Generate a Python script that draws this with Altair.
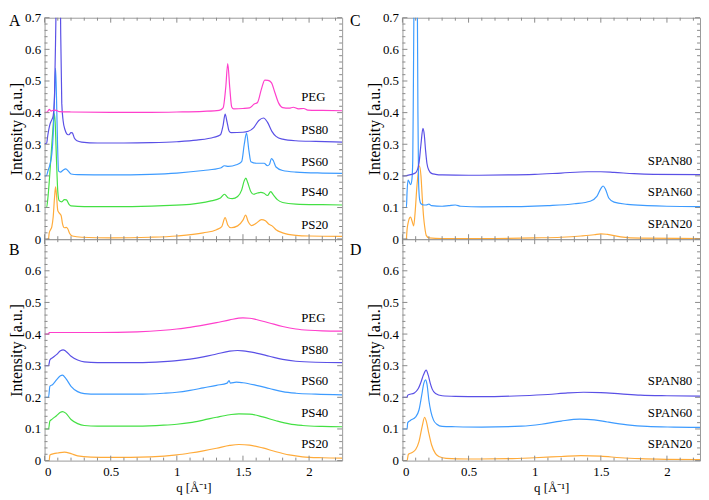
import altair as alt
import pandas as pd

# ---------------- data (q [1/Å], intensity [a.u.]) ----------------
# Panel A
A_PEG = [(0.0,0.401),(0.02,0.402),(0.035,0.41),(0.05,0.405),(0.07,0.408),(0.09,0.407),(0.11,0.403),(0.2,0.402),
         (0.5,0.401),(0.8,0.401),(1.0,0.402),(1.2,0.404),(1.32,0.407),(1.35,0.415),(1.37,0.48),(1.385,0.555),
         (1.40,0.48),(1.415,0.418),(1.43,0.412),(1.5,0.413),(1.55,0.415),(1.585,0.427),(1.61,0.432),(1.64,0.475),
         (1.665,0.503),(1.69,0.502),(1.715,0.495),(1.74,0.465),(1.77,0.43),(1.8,0.416),(1.85,0.414),(1.88,0.417),
         (1.92,0.412),(1.96,0.413),(1.99,0.408),(2.1,0.407),(2.25,0.406)]
A_PS80 = [(0.0,0.302),(0.015,0.303),(0.025,0.33),(0.04,0.362),(0.055,0.378),(0.065,0.39),(0.075,0.45),(0.085,0.68),
          (0.095,0.95),(0.105,1.05),(0.115,0.95),(0.122,0.65),(0.13,0.43),(0.14,0.375),(0.155,0.345),(0.17,0.332),
          (0.185,0.33),(0.2,0.337),(0.21,0.336),(0.225,0.32),(0.245,0.311),(0.28,0.307),(0.4,0.304),(0.6,0.304),
          (0.8,0.305),(1.0,0.308),(1.15,0.313),(1.28,0.322),(1.33,0.33),(1.35,0.36),(1.365,0.395),(1.38,0.37),
          (1.395,0.342),(1.41,0.337),(1.5,0.338),(1.54,0.341),(1.58,0.352),(1.62,0.375),(1.655,0.383),(1.685,0.37),
          (1.72,0.34),(1.75,0.325),(1.8,0.316),(1.9,0.311),(2.05,0.309),(2.25,0.307)]
A_PS60 = [(0.0,0.2),(0.015,0.201),(0.025,0.215),(0.04,0.235),(0.055,0.27),(0.065,0.33),(0.075,0.45),(0.083,0.54),
          (0.09,0.45),(0.098,0.3),(0.106,0.215),(0.12,0.212),(0.14,0.218),(0.16,0.222),(0.18,0.215),(0.2,0.206),
          (0.25,0.204),(0.5,0.203),(0.8,0.205),(1.0,0.209),(1.2,0.217),(1.33,0.225),(1.36,0.232),(1.39,0.23),
          (1.45,0.235),(1.49,0.245),(1.51,0.3),(1.527,0.335),(1.545,0.28),(1.56,0.245),(1.6,0.24),(1.66,0.24),
          (1.685,0.232),(1.7,0.236),(1.715,0.255),(1.73,0.248),(1.75,0.228),(1.8,0.217),(1.9,0.212),(2.1,0.209),
          (2.25,0.208)]
A_PS40 = [(0.0,0.1),(0.015,0.101),(0.025,0.13),(0.035,0.18),(0.045,0.24),(0.055,0.3),(0.065,0.36),(0.073,0.397),
          (0.08,0.37),(0.09,0.25),(0.1,0.15),(0.11,0.122),(0.13,0.118),(0.15,0.125),(0.165,0.124),(0.185,0.11),
          (0.2,0.105),(0.3,0.103),(0.6,0.103),(0.9,0.106),(1.1,0.11),(1.25,0.12),(1.33,0.13),(1.36,0.142),
          (1.39,0.13),(1.42,0.128),(1.46,0.135),(1.49,0.155),(1.51,0.185),(1.522,0.193),(1.535,0.18),(1.56,0.15),
          (1.58,0.142),(1.61,0.146),(1.635,0.148),(1.66,0.145),(1.685,0.138),(1.71,0.15),(1.73,0.14),(1.76,0.125),
          (1.8,0.116),(1.9,0.111),(2.1,0.109),(2.25,0.108)]
A_PS20 = [(0.02,0.0),(0.03,0.001),(0.035,0.02),(0.045,0.03),(0.055,0.04),(0.065,0.07),(0.075,0.13),(0.083,0.165),
          (0.09,0.14),(0.1,0.09),(0.11,0.083),(0.125,0.075),(0.135,0.05),(0.15,0.036),(0.165,0.037),(0.175,0.033),
          (0.19,0.018),(0.21,0.01),(0.28,0.006),(0.5,0.004),(0.8,0.006),(1.0,0.01),(1.2,0.02),(1.3,0.03),
          (1.34,0.04),(1.365,0.068),(1.385,0.045),(1.41,0.036),(1.46,0.042),(1.5,0.06),(1.52,0.076),(1.54,0.055),
          (1.565,0.043),(1.6,0.05),(1.64,0.062),(1.67,0.058),(1.7,0.046),(1.72,0.042),(1.75,0.03),(1.8,0.02),
          (1.9,0.012),(2.0,0.01),(2.25,0.009)]

# Panel B
B_PEG = [(0.0,0.4),(0.03,0.4),(0.035,0.405),(0.1,0.405),(0.4,0.405),(0.7,0.407),(0.9,0.412),(1.0,0.416),
         (1.1,0.421),(1.2,0.428),(1.3,0.436),(1.4,0.445),(1.5,0.451),(1.55,0.45),(1.6,0.446),(1.7,0.435),
         (1.8,0.424),(1.9,0.416),(2.0,0.412),(2.1,0.41),(2.25,0.409)]
B_PS80 = [(0.0,0.3),(0.03,0.3),(0.04,0.318),(0.06,0.325),(0.09,0.335),(0.12,0.347),(0.14,0.35),(0.16,0.346),
          (0.2,0.33),(0.25,0.318),(0.3,0.312),(0.4,0.31),(0.7,0.31),(0.9,0.313),(1.0,0.316),(1.1,0.321),
          (1.2,0.328),(1.3,0.337),(1.4,0.346),(1.46,0.348),(1.5,0.347),(1.6,0.34),(1.7,0.33),(1.8,0.32),
          (1.9,0.314),(2.05,0.311),(2.25,0.31)]
B_PS60 = [(0.0,0.2),(0.03,0.2),(0.04,0.235),(0.06,0.24),(0.09,0.255),(0.12,0.268),(0.135,0.27),(0.16,0.26),
          (0.2,0.235),(0.25,0.218),(0.3,0.212),(0.4,0.21),(0.7,0.21),(0.9,0.213),(1.0,0.216),(1.1,0.222),
          (1.2,0.23),(1.3,0.238),(1.38,0.245),(1.395,0.253),(1.405,0.245),(1.45,0.248),(1.5,0.246),(1.6,0.238),
          (1.7,0.228),(1.8,0.218),(1.9,0.213),(2.05,0.21),(2.25,0.208)]
B_PS40 = [(0.0,0.1),(0.03,0.1),(0.04,0.125),(0.06,0.132),(0.09,0.142),(0.12,0.153),(0.135,0.155),(0.16,0.15),
          (0.2,0.13),(0.25,0.117),(0.3,0.111),(0.4,0.109),(0.7,0.109),(0.9,0.112),(1.0,0.115),(1.1,0.12),
          (1.2,0.128),(1.3,0.137),(1.4,0.145),(1.47,0.148),(1.55,0.147),(1.65,0.138),(1.75,0.126),(1.85,0.116),
          (1.95,0.111),(2.1,0.108),(2.25,0.107)]
B_PS20 = [(0.0,0.0),(0.035,0.0),(0.04,0.018),(0.07,0.022),(0.1,0.024),(0.15,0.027),(0.2,0.022),(0.25,0.015),
          (0.35,0.011),(0.5,0.01),(0.8,0.012),(1.0,0.018),(1.1,0.024),(1.2,0.031),(1.3,0.039),(1.4,0.048),
          (1.47,0.051),(1.55,0.049),(1.65,0.04),(1.75,0.028),(1.85,0.018),(1.95,0.012),(2.1,0.009),(2.25,0.008)]

# Panel C
C_SPAN80 = [(0.0,0.2),(0.03,0.201),(0.062,0.204),(0.1,0.21),(0.125,0.24),(0.14,0.3),(0.155,0.35),(0.165,0.33),
            (0.175,0.28),(0.185,0.24),(0.2,0.218),(0.22,0.208),(0.25,0.205),(0.3,0.203),(0.5,0.202),(0.8,0.203),
            (1.0,0.205),(1.2,0.209),(1.4,0.213),(1.5,0.213),(1.6,0.211),(1.75,0.207),(1.9,0.205),(2.25,0.204)]
C_SPAN60 = [(0.0,0.1),(0.03,0.1),(0.035,0.15),(0.042,0.187),(0.05,0.182),(0.062,0.172),(0.072,0.19),(0.078,0.25),
            (0.083,0.5),(0.088,0.8),(0.1,1.1),(0.112,0.8),(0.117,0.4),(0.122,0.18),(0.13,0.125),(0.14,0.112),
            (0.16,0.108),(0.18,0.108),(0.2,0.111),(0.22,0.106),(0.3,0.104),(0.35,0.106),(0.4,0.108),(0.44,0.104),
            (0.6,0.102),(0.9,0.103),(1.1,0.106),(1.3,0.112),(1.42,0.12),(1.47,0.135),(1.5,0.16),(1.517,0.168),
            (1.535,0.158),(1.56,0.13),(1.6,0.117),(1.7,0.11),(1.85,0.106),(2.0,0.104),(2.25,0.103)]
C_SPAN20 = [(0.03,0.0),(0.035,0.03),(0.042,0.05),(0.055,0.068),(0.062,0.07),(0.072,0.058),(0.085,0.042),
            (0.095,0.08),(0.11,0.17),(0.128,0.232),(0.14,0.2),(0.15,0.13),(0.16,0.07),(0.168,0.04),(0.18,0.012),
            (0.2,0.004),(0.3,0.002),(0.6,0.002),(1.0,0.004),(1.2,0.006),(1.35,0.01),(1.45,0.014),(1.5,0.017),
            (1.55,0.015),(1.65,0.007),(1.8,0.003),(2.25,0.002)]

# Panel D
D_SPAN80 = [(0.0,0.2),(0.035,0.2),(0.04,0.207),(0.09,0.214),(0.12,0.228),(0.14,0.248),(0.16,0.272),(0.179,0.286),
            (0.195,0.27),(0.21,0.245),(0.225,0.226),(0.25,0.212),(0.3,0.205),(0.4,0.203),(0.6,0.202),(0.9,0.205),
            (1.1,0.209),(1.25,0.214),(1.37,0.216),(1.5,0.215),(1.65,0.211),(1.8,0.207),(2.0,0.205),(2.25,0.204)]
D_SPAN60 = [(0.0,0.1),(0.035,0.1),(0.04,0.12),(0.06,0.127),(0.1,0.138),(0.125,0.16),(0.145,0.205),(0.162,0.245),
            (0.174,0.255),(0.186,0.24),(0.2,0.19),(0.215,0.155),(0.235,0.128),(0.26,0.115),(0.3,0.108),(0.4,0.107),
            (0.6,0.106),(0.9,0.109),(1.05,0.115),(1.2,0.125),(1.34,0.131),(1.45,0.129),(1.55,0.122),(1.7,0.113),
            (1.85,0.108),(2.05,0.106),(2.25,0.105)]
D_SPAN20 = [(0.0,0.0),(0.035,0.0),(0.045,0.02),(0.07,0.025),(0.1,0.035),(0.125,0.06),(0.15,0.11),(0.168,0.137),
            (0.18,0.125),(0.2,0.085),(0.22,0.05),(0.25,0.022),(0.28,0.012),(0.33,0.007),(0.5,0.005),(0.8,0.006),
            (1.0,0.009),(1.2,0.013),(1.35,0.016),(1.5,0.014),(1.65,0.009),(1.8,0.006),(2.0,0.004),(2.25,0.003)]

# curve labels: (text, q, intensity)
A_LABELS = [("PEG", 1.94, 0.448), ("PS80", 1.94, 0.345), ("PS60", 1.94, 0.245), ("PS40", 1.94, 0.149), ("PS20", 1.94, 0.046)]
B_LABELS = [("PEG", 1.94, 0.45), ("PS80", 1.94, 0.349), ("PS60", 1.94, 0.25), ("PS40", 1.94, 0.149), ("PS20", 1.94, 0.051)]
C_LABELS = [("SPAN80", 1.855, 0.247), ("SPAN60", 1.855, 0.148), ("SPAN20", 1.855, 0.047)]
D_LABELS = [("SPAN80", 1.855, 0.25), ("SPAN60", 1.855, 0.149), ("SPAN20", 1.855, 0.051)]

SERIES = ["PEG", "PS80", "PS60", "PS40", "PS20", "SPAN80", "SPAN60", "SPAN20"]
COLORS = ["#ff3fcc", "#5a50e6", "#3d9bff", "#44e044", "#ffab3a", "#5a50e6", "#3d9bff", "#ffab3a"]

X_MAJOR = [0, 0.5, 1, 1.5, 2]
X_MINOR = [0.1, 0.2, 0.3, 0.4, 0.6, 0.7, 0.8, 0.9, 1.1, 1.2, 1.3, 1.4, 1.6, 1.7, 1.8, 1.9, 2.1, 2.2]
Y_MAJOR = [0, 0.1, 0.2, 0.3, 0.4, 0.5, 0.6, 0.7]
Y_MINOR = [round(0.02 * i, 2) for i in range(36) if i % 5 != 0]

W, H = 301, 224
FONT = "Liberation Serif"
GREY = "#8a8a8a"

xscale = alt.Scale(domain=[0, 2.25], nice=False, zero=False)
yscale = alt.Scale(domain=[0, 0.7], nice=False)
cscale = alt.Scale(domain=SERIES, range=COLORS)


def make_axes(y_vals, show_x):
    yaxis = alt.Axis(values=y_vals, format="~g", ticks=False, domain=False, grid=False,
                     labelFont=FONT, labelFontSize=13, labelColor="black", labelPadding=4,
                     title="Intensity [a.u.]", titleFont=FONT, titleFontSize=16,
                     titleFontWeight="normal", titleColor="black", titlePadding=0)
    if show_x:
        xaxis = alt.Axis(values=X_MAJOR, format="~g", ticks=False, domain=False, grid=False,
                         labelFont=FONT, labelFontSize=13, labelColor="black", labelPadding=5,
                         title="q [Å⁻¹]", titleFont=FONT, titleFontSize=13,
                         titleFontWeight="normal", titleColor="black", titlePadding=3)
    else:
        xaxis = None
    return xaxis, yaxis


def frame_ticks(xaxis, yaxis):
    layers = []
    for vals, ln in ((X_MAJOR, 5), (X_MINOR, 3)):
        d = pd.DataFrame({"q": vals})
        layers.append(alt.Chart(d).mark_rule(color=GREY, strokeWidth=1).encode(
            x=alt.X("q:Q", scale=xscale, axis=xaxis), y=alt.value(H), y2=alt.value(H - ln)))
        layers.append(alt.Chart(d).mark_rule(color=GREY, strokeWidth=1).encode(
            x=alt.X("q:Q", scale=xscale, axis=xaxis), y=alt.value(0), y2=alt.value(ln)))
    for vals, ln in ((Y_MAJOR, 5), (Y_MINOR, 3)):
        d = pd.DataFrame({"I": vals})
        layers.append(alt.Chart(d).mark_rule(color=GREY, strokeWidth=1).encode(
            y=alt.Y("I:Q", scale=yscale, axis=yaxis), x=alt.value(0), x2=alt.value(ln)))
        layers.append(alt.Chart(d).mark_rule(color=GREY, strokeWidth=1).encode(
            y=alt.Y("I:Q", scale=yscale, axis=yaxis), x=alt.value(W), x2=alt.value(W - ln)))
    return layers


def panel(series, labels, letter, letter_x, letter_y, y_vals, show_x):
    xaxis, yaxis = make_axes(y_vals, show_x)
    rows = []
    for name, pts in series:
        for q, i in pts:
            rows.append({"q": q, "I": i, "s": name})
    df = pd.DataFrame(rows)
    lines = alt.Chart(df).mark_line(clip=True, strokeWidth=1.2, interpolate="monotone").encode(
        x=alt.X("q:Q", scale=xscale, axis=xaxis),
        y=alt.Y("I:Q", scale=yscale, axis=yaxis),
        color=alt.Color("s:N", scale=cscale, legend=None),
    )
    ldf = pd.DataFrame(labels, columns=["t", "q", "I"])
    text = alt.Chart(ldf).mark_text(align="left", baseline="middle", font=FONT, fontSize=13,
                                    color="black").encode(
        x=alt.X("q:Q", scale=xscale, axis=xaxis),
        y=alt.Y("I:Q", scale=yscale, axis=yaxis),
        text="t:N")
    let = alt.Chart(pd.DataFrame({"t": [letter]})).mark_text(
        align="left", baseline="top", font=FONT, fontSize=16, color="black").encode(
        text="t:N", x=alt.value(letter_x), y=alt.value(letter_y))
    return alt.layer(lines, text, *frame_ticks(xaxis, yaxis), let).properties(width=W, height=H)


pA = panel([("PS20", A_PS20), ("PS40", A_PS40), ("PS60", A_PS60), ("PS80", A_PS80), ("PEG", A_PEG)],
           A_LABELS, "A", -36, -5, Y_MAJOR, False)
pC = panel([("SPAN20", C_SPAN20), ("SPAN60", C_SPAN60), ("SPAN80", C_SPAN80)],
           C_LABELS, "C", -53, -5, Y_MAJOR, False)
pB = panel([("PS20", B_PS20), ("PS40", B_PS40), ("PS60", B_PS60), ("PS80", B_PS80), ("PEG", B_PEG)],
           B_LABELS, "B", -36, 3, Y_MAJOR[:-1], True)
pD = panel([("SPAN20", D_SPAN20), ("SPAN60", D_SPAN60), ("SPAN80", D_SPAN80)],
           D_LABELS, "D", -53, 3, Y_MAJOR[:-1], True)

chart = alt.concat(pA, pC, pB, pD, columns=2, spacing={"row": 0, "column": 61}, bounds="flush").properties(
    padding=0
).configure_view(stroke="#9a9a9a", strokeWidth=1)

chart.save("out.html", embed_options={"renderer": "svg", "actions": False})
